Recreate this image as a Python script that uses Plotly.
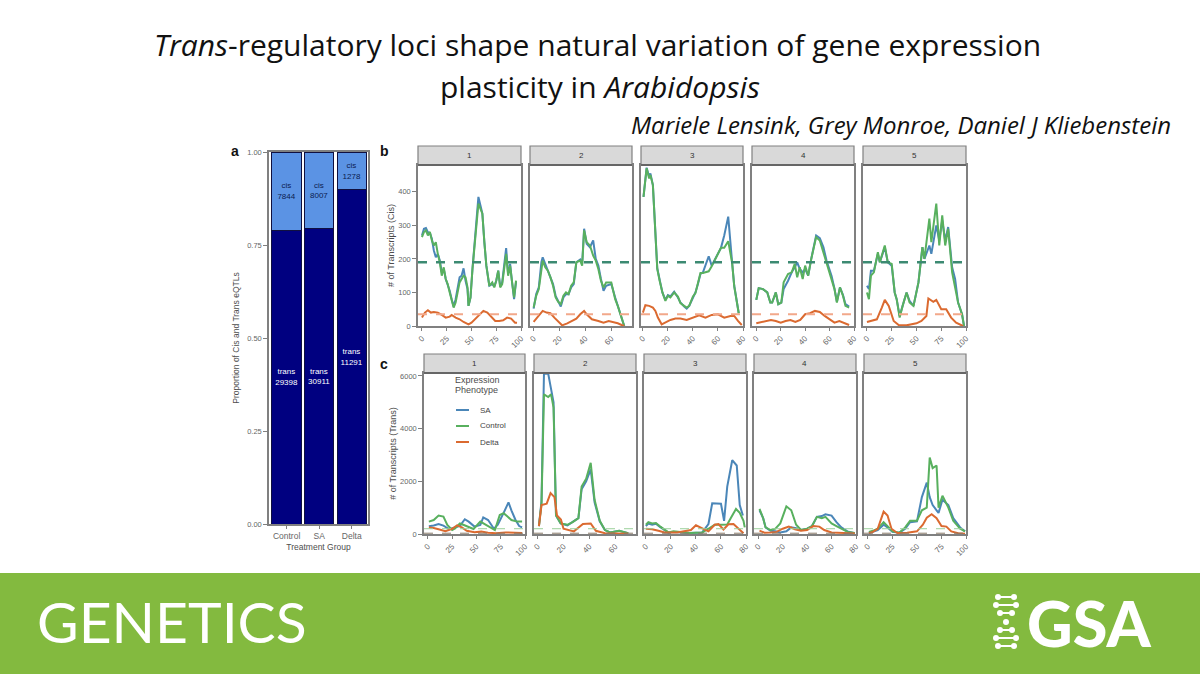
import plotly.graph_objects as go

W, H = 1200, 675

# ---------- panel a ----------
groups = ["Control", "SA", "Delta"]
cis_counts = [7844, 8007, 1278]
trans_counts = [29398, 30911, 11291]
prop_ticks = [0, 0.25, 0.5, 0.75, 1]
prop_tick_labels = ["0.00", "0.25", "0.50", "0.75", "1.00"]

# ---------- panel b : cis ----------
b1_x = [0,2,4,6,8,10,12,14,16,18,20,22,24,26,28,30,32,34,36,38,40,42,44,46,47,49,51,53,55,57,59,61,63,65,68,71,73,75,77,79,81,83,85,87,89,91,93,95]
b1_control = [265,280,285,270,280,255,240,250,215,190,150,175,140,125,100,80,55,70,100,130,140,150,145,115,60,85,170,235,300,365,350,335,250,180,120,130,115,135,165,115,125,180,215,150,180,130,85,135]
b1_sa = [270,290,292,280,278,260,225,205,215,195,160,170,140,125,105,80,58,80,115,145,150,172,135,110,60,85,170,240,305,385,360,335,250,180,120,125,118,135,165,118,130,185,232,155,185,130,80,132]
b1_delta_x = [0,3,6,9,12,16,20,24,28,30,34,38,42,47,50,54,57,62,66,70,74,78,82,86,90,94,96]
b1_delta = [25,40,47,40,42,40,33,25,28,33,25,20,12,5,10,22,28,45,40,28,15,15,17,25,22,10,10]

b2_x = [0,2,4,6,7,9,11,13,15,17,19,21,23,25,27,29,31,33,36,37.5,39,41,43.5,46,48,50,52,54,56,60,63,65,68,70]
b2_control = [55,90,110,170,195,175,165,145,120,85,72,65,90,100,95,120,130,190,195,180,285,250,240,210,195,170,135,115,130,130,80,60,20,0]
b2_sa = [52,95,115,190,205,185,170,150,125,90,75,58,85,95,95,115,125,190,198,185,290,245,235,255,200,180,140,105,120,125,85,60,22,0]
b2_delta_x = [0,4,7,10,13,16,20,22,26,30,33,36,39,41,45,50,54,58,62,65,68,70]
b2_delta = [12,30,45,40,38,25,8,2,8,15,22,35,45,35,20,15,10,15,12,8,3,0]

b3_x = [0.5,2,3,5,6,8,9.6,11.5,13.4,15.6,18,20,22,25,28,30,33,35,37,40,42,44,46,48,52.6,55,59,62.4,65,68.2,71.3,73,76.6]
b3_control = [385,430,470,440,450,420,300,170,135,100,75,90,85,100,88,68,60,55,60,88,98,125,158,158,163,178,208,233,233,253,188,118,38]
b3_sa = [385,432,472,445,455,420,300,172,138,100,78,92,88,102,85,70,58,52,60,85,100,125,155,160,208,180,210,233,270,326,190,120,38]
b3_delta_x = [0,2,5,8,10,12,15,18,22,26,30,35,40,45,50,55,60,65,70,73,76,79]
b3_delta = [40,62,60,55,45,25,5,10,18,22,22,18,25,32,25,33,35,25,30,30,15,3]

b4_x = [0,2,5.5,9,11.5,13,16,18,20.5,22.4,26,29,31.5,33.5,35.6,38,40,42.5,45,49,52,55,57.5,61.6,64,66,68.5,71,73,76]
b4_control = [78,113,110,100,70,70,100,65,70,130,155,160,185,145,175,140,180,150,200,265,255,220,190,145,110,70,115,90,60,55]
b4_sa = [78,113,110,100,70,70,100,65,70,110,135,160,175,190,170,160,170,150,200,270,262,235,195,150,112,72,115,92,65,58]
b4_delta_x = [0,4,8,12,16,20,24,28,32,36,40,44,48,52,56,60,64,68,72,76]
b4_delta = [8,12,15,18,15,10,15,18,12,18,35,38,45,42,30,20,10,15,10,3]

b5_x = [0,2,4,7,11,13,18,21,25,28,30,33,36,40,43,47,52,56,58,63,65,70,73,76,79,82,86,89,92,96,98]
b5_control = [100,80,150,160,220,190,240,190,185,100,80,25,60,100,70,60,130,235,200,320,250,365,240,330,240,290,160,120,70,35,0]
b5_sa = [120,110,165,165,215,190,235,190,180,100,80,30,60,100,75,60,130,235,200,240,215,300,255,315,255,295,175,140,70,35,0]
b5_delta_x = [0,5,10,15,18,22,27,32,40,50,55,60,62,67,70,75,80,85,90,97]
b5_delta = [12,15,20,55,78,60,15,3,2,8,15,30,82,72,78,50,50,25,10,0]

# ---------- panel c : trans ----------
c1_x = [1,6,11,16,20,25,28,33,37,42,47,54,60,69,74,78,82,86,92,97]
c1_control = [470,530,700,660,340,150,215,400,340,280,190,470,340,150,720,790,660,530,470,470]
c1_sa_x = [1,6,11,16,22,28,33,38,42,48,54,57,62,68,72,78,83,86,90,94,97]
c1_sa = [290,320,380,320,180,240,310,560,470,280,340,630,530,200,350,800,1200,900,550,300,250]
c1_delta_x = [1,6,11,18,25,30,35,40,48,55,62,70,80,90,97]
c1_delta = [250,230,180,110,200,330,250,120,70,90,50,30,60,40,40]

c2_x = [1,3,4.9,8.2,10.4,12.3,14.2,17.8,23,27,31.5,34,37.5,41,44,48,52,56,63,70]
c2_control = [300,1150,5300,5200,5300,4800,700,400,350,450,600,1800,2100,2700,1300,500,150,60,120,30]
c2_sa = [300,1250,6080,6080,5500,5000,700,400,330,450,600,1700,2000,2450,1200,480,150,60,120,30]
c2_delta_x = [1,3,7,10,13,15,18,20,28,32,35,41,45,52,60,70]
c2_delta = [300,1100,1150,1550,1400,700,550,200,100,250,380,400,120,30,20,10]

c3_x = [0,2,5,8,11,15,18,22,26,30,35,40,45,50,55,60,65,68,72,75,78,79]
c3_control = [350,450,400,420,300,150,60,100,80,40,40,50,60,200,350,350,360,620,950,800,500,250]
c3_sa_x = [0,2,5,8,11,15,18,22,26,30,35,40,45,50,53,60,62.5,65,69,72.6,75,77.5]
c3_sa = [300,400,350,390,280,130,50,80,70,40,40,50,60,380,1165,1150,500,1800,2800,2600,1100,700]
c3_delta_x = [0,5,10,15,25,30,36,40,45,50,55,58,62,66,70,74,78]
c3_delta = [200,180,120,60,60,100,150,330,200,100,350,380,170,370,380,220,30]

c4_x = [1,4,6,10,14,18,23,27,31,35,40,44,48,52,55,60,64,68,73,79]
c4_control = [950,600,250,150,200,400,1050,900,350,150,200,300,650,600,650,400,300,200,80,40]
c4_sa = [900,600,250,120,100,60,100,250,220,150,200,300,650,680,750,700,450,250,100,30]
c4_delta_x = [1,5,10,15,20,25,30,35,40,45,50,54,60,70,79]
c4_delta = [130,50,60,80,200,280,180,120,150,300,280,150,60,30,20]

c5_x = [1,5,10,16,20,25,32,38,43,50,55,60,63,66,70,72,76,82,87,94,99]
c5_control = [80,120,200,450,300,100,50,250,500,500,900,1000,2900,2500,2600,1000,1450,1000,500,200,100]
c5_sa = [50,80,150,350,250,80,50,200,450,480,1400,1950,1400,1100,900,800,1300,1100,600,250,100]
c5_delta_x = [1,5,10,16,20,24,30,40,50,56,60,65,70,75,80,85,92,99]
c5_delta = [30,80,200,850,700,200,40,50,100,350,620,750,600,300,280,100,30,10]

chromosomes = ["1", "2", "3", "4", "5"]
phenotypes = ["SA", "Control", "Delta"]
mean_cis = {"Control": 190, "Delta": 35}
mean_trans = {"Control": 200, "Delta": 30}
ticks_long = [0, 25, 50, 75, 100]
ticks_short = [0, 20, 40, 60, 80]

COL = {"SA": "#4A86B8", "Control": "#58B05E", "Delta": "#DB6A30"}
GRAY = "#808080"
TXT = "#4d4d4d"
FONT = "Liberation Sans"


def px(x):
    return x / W


def py(y):
    return 1 - y / H


fig = go.Figure()
layout = dict(
    width=W, height=H, autosize=False, margin=dict(l=0, r=0, t=0, b=0, pad=0, autoexpand=False),
    paper_bgcolor="white", plot_bgcolor="white", barmode="stack", barnorm="fraction",
    bargap=0.1, font=dict(family=FONT, size=8, color=TXT), showlegend=False,
)
shapes = []
notes = []


def note(text, x, y, size, color=TXT, xanchor="center", family=FONT, angle=0, **font_kw):
    notes.append(dict(
        text=text, x=px(x), y=py(y), xref="paper", yref="paper", showarrow=False,
        xanchor=xanchor, yanchor="middle", textangle=angle,
        font=dict(family=family, size=size, color=color, **font_kw),
    ))


# ---------- bars ----------
fig.add_bar(x=groups, y=trans_counts, marker=dict(color="#000080", line=dict(color="#101040", width=1)),
            text=[f"trans<br>{v}" for v in trans_counts], textposition="inside", insidetextanchor="middle",
            textangle=0, insidetextfont=dict(size=8, color="white"), constraintext="none",
            xaxis="x", yaxis="y", hoverinfo="skip")
fig.add_bar(x=groups, y=cis_counts, marker=dict(color="#5B93E4", line=dict(color="#101040", width=1)),
            text=[f"cis<br>{v}" for v in cis_counts], textposition="inside", insidetextanchor="middle",
            textangle=0, insidetextfont=dict(size=8, color="#0b1c50"), constraintext="none",
            xaxis="x", yaxis="y", hoverinfo="skip")
layout["xaxis"] = dict(
    domain=[px(269), px(368)], range=[-0.54, 2.5], anchor="y", showline=True, mirror=True, linecolor=GRAY,
    linewidth=1.5, ticks="outside", ticklen=3, tickcolor=GRAY, tickfont=dict(size=8.5, color="#666"),
    title=dict(text="Treatment Group", font=dict(size=8.5, color=TXT), standoff=4), showgrid=False,
)
layout["yaxis"] = dict(
    domain=[py(524), py(152)], range=[0, 1], anchor="x", tickvals=prop_ticks, ticktext=prop_tick_labels,
    showline=True, mirror=True, linecolor=GRAY, linewidth=1.5, ticks="outside", ticklen=4, tickcolor=GRAY,
    tickfont=dict(size=7.5, color="#666"), showgrid=False, zeroline=False,
    title=dict(text="Proportion of Cis and Trans eQTLs", font=dict(size=8.5, color=TXT), standoff=6),
)

# ---------- facets ----------
b_frames = [(418, 521), (530, 632), (641, 743), (752, 854), (863, 966)]
c_frames = [(424, 525), (534, 636), (644, 746), (754, 856), (864, 966)]
x_ranges = [(-4, 100), (-2.8, 76), (-1.5, 80), (-3.5, 80), (-4, 100)]
tick_sets = [ticks_long, ticks_short[:4], ticks_short, ticks_short, ticks_long]

b_data = [
    (b1_x, b1_sa, b1_x, b1_control, b1_delta_x, b1_delta),
    (b2_x, b2_sa, b2_x, b2_control, b2_delta_x, b2_delta),
    (b3_x, b3_sa, b3_x, b3_control, b3_delta_x, b3_delta),
    (b4_x, b4_sa, b4_x, b4_control, b4_delta_x, b4_delta),
    (b5_x, b5_sa, b5_x, b5_control, b5_delta_x, b5_delta),
]
c_data = [
    (c1_sa_x, c1_sa, c1_x, c1_control, c1_delta_x, c1_delta),
    (c2_x, c2_sa, c2_x, c2_control, c2_delta_x, c2_delta),
    (c3_sa_x, c3_sa, c3_x, c3_control, c3_delta_x, c3_delta),
    (c4_x, c4_sa, c4_x, c4_control, c4_delta_x, c4_delta),
    (c5_x, c5_sa, c5_x, c5_control, c5_delta_x, c5_delta),
]


def add_row(frames, data, top, bottom, strip_top, yrange, yticks, ytitle, means, dash_cols, start):
    for i, ((x0, x1), d) in enumerate(zip(frames, data)):
        n = start + i
        xn, yn = f"x{n}", f"y{n}"
        for name, xs, ys in (("SA", d[0], d[1]), ("Control", d[2], d[3]), ("Delta", d[4], d[5])):
            fig.add_scatter(x=xs, y=ys, mode="lines", name=name, xaxis=xn, yaxis=yn,
                            line=dict(color=COL[name], width=2), cliponaxis=True, hoverinfo="skip")
        layout[f"xaxis{n}"] = dict(
            domain=[px(x0), px(x1)], range=list(x_ranges[i]), anchor=yn, tickvals=tick_sets[i],
            tickangle=-45, showline=True, mirror=True, linecolor=GRAY, linewidth=1.5, ticks="outside",
            ticklen=3, tickcolor=GRAY, tickfont=dict(size=8, color="#666"), showgrid=False, zeroline=False,
        )
        ydict = dict(
            domain=[py(bottom), py(top)], range=list(yrange), anchor=xn, showline=True, mirror=True,
            linecolor=GRAY, linewidth=1.5, showgrid=False, zeroline=False,
        )
        if i == 0:
            ydict.update(tickvals=yticks, ticks="outside", ticklen=4, tickcolor=GRAY,
                         tickfont=dict(size=7.5, color="#666"),
                         title=dict(text=ytitle, font=dict(size=9, color=TXT), standoff=2))
        else:
            ydict.update(showticklabels=False, ticks="")
        layout[f"yaxis{n}"] = ydict
        for key, (col, w) in dash_cols.items():
            shapes.append(dict(type="line", xref=f"{xn} domain", yref=yn, x0=0, x1=1, y0=means[key], y1=means[key],
                               line=dict(color=col, width=w, dash="dash"), layer="above"))
        shapes.append(dict(type="rect", xref="paper", yref="paper", x0=px(x0), x1=px(x1), y0=py(top), y1=py(strip_top),
                           fillcolor="#d9d9d9", line=dict(color=GRAY, width=1.2)))
        shapes.append(dict(type="line", xref="paper", yref="paper", x0=px(x0), x1=px(x1), y0=py(top), y1=py(top),
                           line=dict(color="#666666", width=2)))
        note(chromosomes[i], (x0 + x1) / 2, (top + strip_top) / 2, 8, color="#333")


add_row(b_frames, b_data, 165, 326, 146, (0, 480), [0, 100, 200, 300, 400], "# of Transcripts (Cis)",
        mean_cis, {"Control": ("#3C8A72", 2.4), "Delta": ("#F2A88A", 1.8)}, 2)
add_row(c_frames, c_data, 373, 534, 354, (0, 6110), [0, 2000, 4000, 6000], "# of Transcripts (Trans)",
        mean_trans, {"Control": ("#9AD09A", 1), "Delta": ("#8A7A6A", 1)}, 7)

# ---------- hand-set legend, sized like the reference ----------
note("Expression", 453, 380, 9, xanchor="left")
note("Phenotype", 453, 390, 9, xanchor="left")
for name, row in zip(phenotypes, (410, 426, 442)):
    shapes.append(dict(type="line", xref="paper", yref="paper", x0=px(456), x1=px(469), y0=py(row), y1=py(row),
                       line=dict(color=COL[name], width=2)))
    note(name, 478, row, 8, xanchor="left", color="#444")

# ---------- banner ----------
shapes.insert(0, dict(type="rect", xref="paper", yref="paper", x0=0, x1=1, y0=py(674), y1=py(573),
                      fillcolor="#83BA3F", line=dict(width=0), layer="below"))

# GSA helix logo: rungs given as (left dot, right dot, row) in page pixels
logo_rungs = [(998, 1014, 597), (996, 1016, 605), (1000, 1012, 613), (1006, 1006, 622),
              (1000, 1012, 630), (996, 1016, 638), (998, 1014, 646)]
for a, b, r in logo_rungs:
    if a != b:
        shapes.append(dict(type="line", xref="paper", yref="paper", x0=px(a), x1=px(b), y0=py(r), y1=py(r),
                           line=dict(color="white", width=2)))
    for c in {a, b}:
        shapes.append(dict(type="circle", xref="paper", yref="paper", x0=px(c - 3), x1=px(c + 3),
                           y0=py(r + 3), y1=py(r - 3), fillcolor="white", line=dict(width=0)))

# ---------- text ----------
note("<i>Trans</i>-regulatory loci shape natural variation of gene expression", 597, 44, 30, "#111", family="Open Sans")
note("plasticity in <i>Arabidopsis</i>", 600, 86, 30, "#111", family="Open Sans")
note("<i>Mariele Lensink, Grey Monroe, Daniel J Kliebenstein</i>", 1173, 125, 24, "#111", xanchor="right", family="Open Sans")
note("<b>a</b>", 235, 151, 14, "#111")
note("<b>b</b>", 384, 151, 14, "#111")
note("<b>c</b>", 384, 364, 14, "#111")
note("GENETICS", 172, 621, 57, "white", family="Lato")
note("GSA", 1089, 622, 63, "white", family="Lato", weight=900)

layout["shapes"] = shapes
layout["annotations"] = notes
fig.update_layout(**layout)

fig.write_html("out.html", config={"displayModeBar": False},
               post_script="document.body.style.margin='0';document.body.style.overflow='hidden';")
